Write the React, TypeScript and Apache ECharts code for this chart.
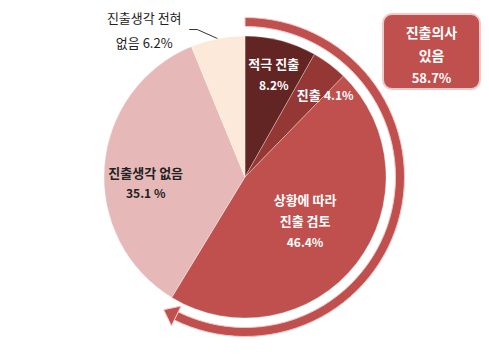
import React, { useEffect, useRef } from "react";
import * as echarts from "echarts";

const categories = ["적극 진출", "진출", "상황에 따라 진출 검토", "진출생각 없음", "진출생각 전혀 없음"];
const values = [8.2, 4.1, 46.4, 35.1, 6.2];
const colors = ["#632523", "#953735", "#c0504d", "#e6b9b8", "#fde9d9"];
const labelTexts = [
  "{k|적극 진출}\n{p|8.2%}",
  "{k|진출} {p|4.1%}",
  "{k|상황에 따라}\n{k|진출 검토}\n{p|46.4%}",
  "{k|진출생각 없음}\n{p|35.1 %}",
  "{o|진출생각 전혀}\n{o|없음 6.2%}",
];
const intentTitle = ["진출의사", "있음"];
const intentValue = values[0] + values[1] + values[2]; // 58.7

const FONT = '"Noto Sans CJK KR", "Noto Sans", sans-serif';

export default function App() {
  const ref = useRef<HTMLDivElement>(null);
  useEffect(() => {
    const chart = echarts.init(ref.current!, null, { renderer: "svg" });
    const cx = 245;
    const cy = 177;
    const rArc = 155;
    const tipDeg = (intentValue / 100) * 360 - 90;
    const baseDeg = tipDeg - 5;
    const b = (baseDeg * Math.PI) / 180;
    const bc = [cx + rArc * Math.cos(b), cy + rArc * Math.sin(b)];
    const rad = [Math.cos(b), Math.sin(b)];
    const tan = [-Math.sin(b), Math.cos(b)];
    const tip = [bc[0] + tan[0] * 14, bc[1] + tan[1] * 14];
    const p1 = [bc[0] + rad[0] * 11, bc[1] + rad[1] * 11];
    const p2 = [bc[0] - rad[0] * 11, bc[1] - rad[1] * 11];

    const offsets = [
      [10, -32],
      [36, -24],
      [2, -2],
      [-26, 11],
      [-15, 9],
    ];

    chart.setOption({
      animation: false,
      backgroundColor: "#ffffff",
      series: [
        {
          type: "pie",
          center: [cx, cy],
          radius: [0, 141],
          startAngle: 90,
          clockwise: true,
          silent: true,
          itemStyle: { borderColor: "#ffffff", borderWidth: 0.3 },
          label: {
            show: true,
            position: "inside",
            formatter: (p: any) => labelTexts[p.dataIndex],
            rich: {
              k: { fontFamily: FONT, fontSize: 13, fontWeight: "bold", color: "#ffffff", lineHeight: 21 },
              p: { fontFamily: FONT, fontSize: 12, fontWeight: "bold", color: "#ffffff", lineHeight: 21 },
              o: { fontFamily: FONT, fontSize: 13, color: "#222222", lineHeight: 25, width: 84, align: "center" },
            },
          },
          labelLine: { show: true, length: 18, length2: 8, lineStyle: { color: "#333333", width: 1 } },
          labelLayout: (params: any) => {
            const o = offsets[params.dataIndex];
            if (!o) return {};
            const res: any = { dx: o[0], dy: o[1] };
            if (params.dataIndex === 4 && params.labelLinePoints && params.labelRect) {
              const lr = params.labelRect;
              const start = params.labelLinePoints[0];
              const right = lr.x + lr.width + o[0];
              const ly = lr.y + o[1] + 18.5;
              res.labelLinePoints = [
                [start[0], start[1]],
                [right + 11, ly],
                [right + 3, ly],
              ];
            }
            return res;
          },
          data: categories.map((c, i) => {
            const item: any = { name: c, value: values[i], itemStyle: { color: colors[i] } };
            if (i === 3) {
              item.label = {
                rich: {
                  k: { fontFamily: FONT, fontSize: 13, fontWeight: "bold", color: "#222222", lineHeight: 20 },
                  p: { fontFamily: FONT, fontSize: 12, fontWeight: "bold", color: "#222222", lineHeight: 20 },
                },
              };
            }
            if (i === 4) {
              item.label = { position: "outside" };
            }
            return item;
          }),
        },
      ],
      graphic: [
        {
          type: "sector",
          shape: {
            cx,
            cy,
            r0: rArc - 4.5,
            r: rArc + 4.5,
            startAngle: -Math.PI / 2,
            endAngle: b,
            clockwise: true,
          },
          style: { fill: "#c0504d", stroke: "#f4c7c6", lineWidth: 1 },
          silent: true,
        },
        {
          type: "polygon",
          shape: { points: [p1, tip, p2] },
          style: { fill: "#c0504d", stroke: "#f4c7c6", lineWidth: 1 },
          silent: true,
        },
        {
          type: "rect",
          shape: { x: 383, y: 14, width: 97, height: 75, r: 9 },
          style: { fill: "#c0504d", stroke: "#f2c9c8", lineWidth: 2 },
          silent: true,
        },
        {
          type: "text",
          x: 431.5,
          y: 32,
          style: {
            text: intentTitle[0],
            fontFamily: FONT,
            fontSize: 14,
            fontWeight: "bold",
            fill: "#ffffff",
            align: "center",
            verticalAlign: "middle",
          },
        },
        {
          type: "text",
          x: 431.5,
          y: 55,
          style: {
            text: intentTitle[1],
            fontFamily: FONT,
            fontSize: 14,
            fontWeight: "bold",
            fill: "#ffffff",
            align: "center",
            verticalAlign: "middle",
          },
        },
        {
          type: "text",
          x: 431.5,
          y: 77,
          style: {
            text: intentValue.toFixed(1) + "%",
            fontFamily: FONT,
            fontSize: 13,
            fontWeight: "bold",
            fill: "#ffffff",
            align: "center",
            verticalAlign: "middle",
          },
        },
      ],
    });
    return () => chart.dispose();
  }, []);
  return (
    <div
      ref={ref}
      style={{ position: "absolute", left: 0, top: 0, width: 489, height: 358 }}
    />
  );
}
